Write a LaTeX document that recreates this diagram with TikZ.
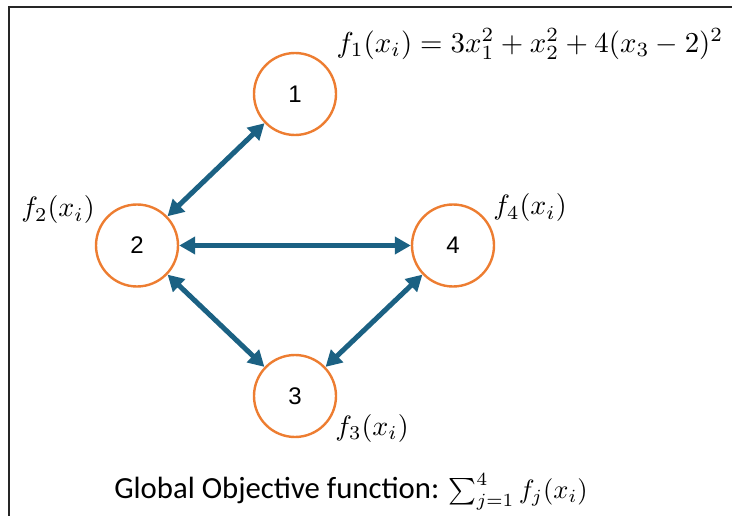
\documentclass[tikz,border=0pt]{standalone}
\usepackage{fontspec}
\setmainfont{Carlito}
\newfontfamily\digitfont{Liberation Sans}
\usetikzlibrary{arrows.meta}
\definecolor{nodeorange}{HTML}{ED7D31}
\definecolor{edgeblue}{HTML}{1B6183}
\begin{document}
\begin{tikzpicture}[x=1pt,y=-1pt,
  agent/.style={circle,draw=nodeorange,line width=2.4pt,minimum size=82pt,inner sep=0pt,font=\digitfont\fontsize{24}{28}\selectfont},
  link/.style={edgeblue,line width=5pt,{Triangle[length=16pt,width=17pt]}-{Triangle[length=16pt,width=17pt]}},
  flabel/.style={font=\fontsize{10}{12}\selectfont,scale=2.8,inner sep=0pt}]
\useasboundingbox (0,0) rectangle (732,516);
\begin{scope}
\clip (0,0) rectangle (732,516);
\draw[line width=2pt,black!85] (8.5,540) -- (8.5,7.5) -- (760,7.5);
\end{scope}
\node[agent] (n1) at (295,94) {1};
\node[agent] (n2) at (137,245.5) {2};
\node[agent] (n4) at (453,245.5) {4};
\node[agent] (n3) at (295,396) {3};
\draw[link] (n1) -- (n2);
\draw[link] (n2) -- (n4);
\draw[link] (n2) -- (n3);
\draw[link] (n3) -- (n4);
\node[flabel,scale=1.03] (l1) at (530,44) {$f_1(x_i) = 3x_1^2 + x_2^2 + 4(x_3-2)^2$};
\node[flabel] (l2) at (58,210) {$f_2(x_i)$};
\node[flabel] (l4) at (530,208) {$f_4(x_i)$};
\node[flabel] (l3) at (372,428) {$f_3(x_i)$};
\node[font=\fontsize{11.6}{14}\selectfont,scale=2.65,inner sep=0pt] (g) at (351,492) {Global Objective function: {\fontsize{10}{12}\selectfont$\sum_{j=1}^{4} f_j(x_i)$}};
\end{tikzpicture}
\end{document}
